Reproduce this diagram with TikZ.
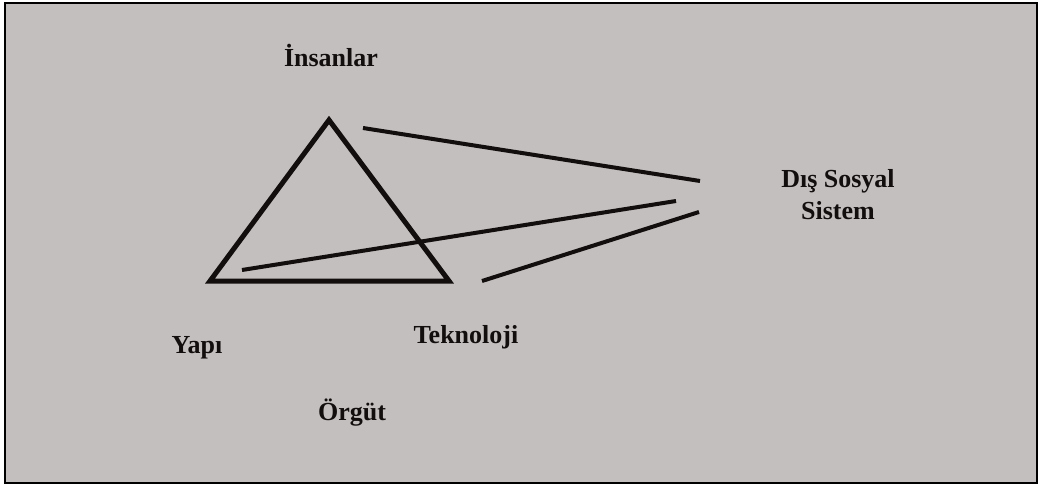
\documentclass[tikz,border=0pt]{standalone}
\usepackage{fontspec}
\setmainfont{Liberation Serif}
\usetikzlibrary{positioning}
\definecolor{ScanGray}{RGB}{196,191,191}
\definecolor{InkBlack}{RGB}{18,14,14}

\begin{document}
\begin{tikzpicture}[x=1pt,y=-1pt,
    lbl/.style={font=\bfseries\fontsize{26}{32}\selectfont,inner sep=0pt,InkBlack},
    link/.style={line width=4pt,InkBlack}]
  \useasboundingbox (0,0) rectangle (1040,486);
  \draw[line width=2.5pt,fill=ScanGray] (5,3) rectangle (1037,483);
  % the triangle
  \coordinate (top) at (329,120);
  \coordinate (left) at (210,281);
  \coordinate (right) at (449,281);
  \draw[link,line width=5pt,line join=miter] (top) -- (left) -- (right) -- cycle;
  % labels
  \node[lbl,anchor=base] (insanlar) at (331,67) {İnsanlar};
  \node[lbl,anchor=base] (yapi) at (197,353) {Yapı};
  \node[lbl,anchor=base] (teknoloji) at (466,343) {Teknoloji};
  \node[lbl,anchor=base] (orgut) at (352,420) {Örgüt};
  \node[lbl,align=center] (dis) at (838,195) {Dış Sosyal\\Sistem};
  % lines out to the social system
  \coordinate (p1) at (363,128);
  \coordinate (p2) at (242,270);
  \coordinate (p3) at (482,281);
  \coordinate (q1) at (700,181);
  \coordinate (q2) at (676,201);
  \coordinate (q3) at (699,212);
  \draw[link] (p1) -- (q1);
  \draw[link] (p2) -- (q2);
  \draw[link] (p3) -- (q3);
\end{tikzpicture}
\end{document}
